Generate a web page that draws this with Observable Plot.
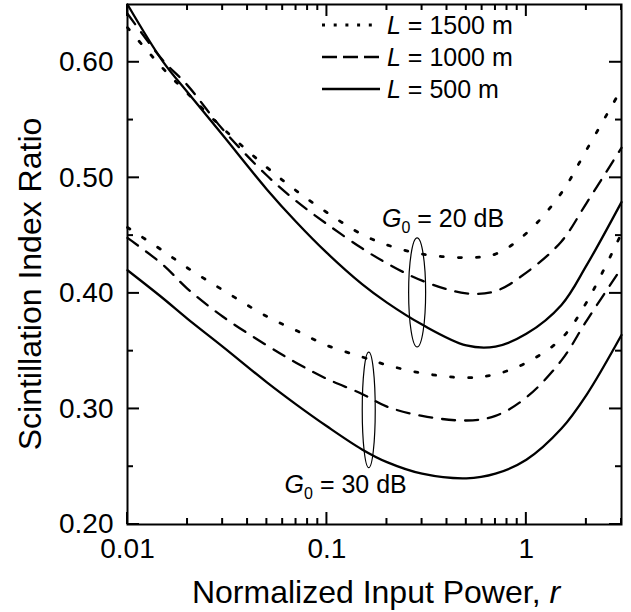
<!DOCTYPE html>
<html><head><meta charset="utf-8">
<script src="https://cdn.jsdelivr.net/npm/d3@7"></script>
<script src="https://cdn.jsdelivr.net/npm/@observablehq/plot@0.6"></script>
<style>body{margin:0;background:#fff}</style>
</head><body><div id="chart"></div>
<script>
// ---- data ----
const rValues = [0.01, 0.015, 0.02, 0.03, 0.05, 0.07, 0.1, 0.15, 0.2, 0.3, 0.5, 0.7, 1, 1.5, 2, 3];
const g20_L1500 = [0.630, 0.595, 0.573, 0.543, 0.509, 0.489, 0.470, 0.451, 0.442, 0.434, 0.431, 0.434, 0.452, 0.487, 0.524, 0.577];
const g20_L1000 = [0.642, 0.602, 0.580, 0.542, 0.502, 0.480, 0.460, 0.439, 0.426, 0.411, 0.400, 0.402, 0.418, 0.445, 0.478, 0.526];
const g20_L500  = [0.650, 0.601, 0.574, 0.537, 0.490, 0.462, 0.435, 0.408, 0.392, 0.373, 0.355, 0.354, 0.365, 0.390, 0.424, 0.479];
const g30_L1500 = [0.457, 0.437, 0.422, 0.403, 0.380, 0.368, 0.355, 0.345, 0.338, 0.331, 0.327, 0.330, 0.340, 0.361, 0.392, 0.452];
const g30_L1000 = [0.448, 0.425, 0.404, 0.380, 0.355, 0.340, 0.326, 0.313, 0.302, 0.294, 0.290, 0.294, 0.310, 0.342, 0.376, 0.422];
const g30_L500  = [0.420, 0.396, 0.378, 0.354, 0.323, 0.304, 0.285, 0.265, 0.254, 0.244, 0.240, 0.244, 0.256, 0.283, 0.312, 0.364];

const legendValues = ["1500", "1000", "500"];
const gainLabels = ["20", "30"];

const xMajor = [0.01, 0.1, 1];
const xMinor = [0.02,0.03,0.04,0.05,0.06,0.07,0.08,0.09,0.2,0.3,0.4,0.5,0.6,0.7,0.8,0.9,2,3];
const yMajor = [0.2, 0.3, 0.4, 0.5, 0.6];
const yMinor = [0.25, 0.35, 0.45, 0.55];

// annotation anchors (data units)
const ellipseR = [0.285, 0.163];
const ellipseV = [0.4004, 0.2987];
const ellipseHalf = [0.0472, 0.050];
const gainLabelR = [0.19, 0.0617];
const gainLabelV = [0.457, 0.2268];

// ---- table ----
const series = [
  {len: "1500", g: "20", vals: g20_L1500},
  {len: "1000", g: "20", vals: g20_L1000},
  {len: "500",  g: "20", vals: g20_L500},
  {len: "1500", g: "30", vals: g30_L1500},
  {len: "1000", g: "30", vals: g30_L1000},
  {len: "500",  g: "30", vals: g30_L500}
];
const rows = series.flatMap(s => s.vals.map((v, i) => ({r: rValues[i], v, len: s.len, key: s.len + "_" + s.g})));

const dashFor = {"1500": "3,15", "1000": "13,10", "500": "none"};
const widthFor = {"1500": 2.8, "1000": 2.3, "500": 2.3};
const legendDash = {"1500": "3,8.7", "1000": "15,6", "500": "none"};

const FONT = "'Liberation Sans', Arial, Helvetica, sans-serif";

function overlay(index, scales, values, dims) {
  const g = d3.create("svg:g").attr("font-family", FONT).attr("fill", "black").attr("text-anchor", "start");
  const left = dims.marginLeft, right = dims.width - dims.marginRight;
  const top = dims.marginTop, bottom = dims.height - dims.marginBottom;
  // inward ticks on all four sides
  const ticks = g.append("g").attr("stroke", "black").attr("stroke-width", 2);
  const addX = (vals, len) => vals.forEach(v => {
    const x = scales.x(v);
    ticks.append("line").attr("x1", x).attr("x2", x).attr("y1", bottom).attr("y2", bottom - len);
    ticks.append("line").attr("x1", x).attr("x2", x).attr("y1", top).attr("y2", top + len);
  });
  const addY = (vals, len) => vals.forEach(v => {
    const y = scales.y(v);
    ticks.append("line").attr("x1", left).attr("x2", left + len).attr("y1", y).attr("y2", y);
    ticks.append("line").attr("x1", right).attr("x2", right - len).attr("y1", y).attr("y2", y);
  });
  addX(xMajor, 12); addX(xMinor, 6); addY(yMajor, 12); addY(yMinor, 6);
  // ellipses
  const rxs = [8.5, 6.5];
  ellipseR.forEach((er, i) => {
    const cy = scales.y(ellipseV[i]);
    const ry = Math.abs(scales.y(ellipseV[i] + ellipseHalf[i]) - cy);
    g.append("ellipse").attr("cx", scales.x(er)).attr("cy", cy)
      .attr("rx", rxs[i]).attr("ry", ry)
      .attr("fill", "none").attr("stroke", "black").attr("stroke-width", 1.2);
  });
  // gain labels
  gainLabels.forEach((lab, i) => {
    const t = g.append("text").attr("x", scales.x(gainLabelR[i])).attr("y", scales.y(gainLabelV[i]))
      .attr("font-size", 25);
    t.append("tspan").attr("font-style", "italic").text("G");
    t.append("tspan").attr("font-size", 16).attr("dy", 6).text("0");
    t.append("tspan").attr("dy", -6).text("\u00a0= " + lab + " dB");
  });
  // legend
  legendValues.forEach((lv, i) => {
    const ly = top + 21 + i * 32;
    g.append("line").attr("x1", left + 195).attr("x2", left + 253)
      .attr("y1", ly).attr("y2", ly).attr("stroke", "black").attr("stroke-width", widthFor[lv])
      .attr("stroke-dasharray", legendDash[lv]);
    const t = g.append("text").attr("x", left + 260).attr("y", ly + 9).attr("font-size", 25);
    t.append("tspan").attr("font-style", "italic").text("L");
    t.append("tspan").text("\u00a0= " + lv + " m");
  });
  // axis titles
  const xt = g.append("text").attr("x", (left + right) / 2 + 2).attr("y", bottom + 79)
    .attr("text-anchor", "middle").attr("font-size", 32);
  xt.append("tspan").text("Normalized Input Power,\u00a0");
  xt.append("tspan").attr("font-style", "italic").text("r");
  g.append("text").attr("transform", `translate(${left - 86},${(top + bottom) / 2 + 20}) rotate(-90)`)
    .attr("text-anchor", "middle").attr("font-size", 32).text("Scintillation Index Ratio");
  return g.node();
}

const lineMarks = legendValues.map(lv => Plot.line(rows.filter(d => d.len === lv), {
  x: "r", y: "v", z: "key", curve: "catmull-rom",
  stroke: "black", strokeWidth: widthFor[lv], strokeDasharray: dashFor[lv]
}));

const chart = Plot.plot({
  width: 631, height: 612,
  marginLeft: 127, marginRight: 10, marginTop: 4, marginBottom: 88,
  style: {fontFamily: FONT, color: "black", background: "white"},
  x: {type: "log", domain: [0.01, 3]},
  y: {domain: [0.2, 0.65]},
  marks: [
    ...lineMarks,
    Plot.frame({stroke: "black", strokeWidth: 2}),
    Plot.axisX(xMajor, {anchor: "bottom", tickSize: 0, tickPadding: 14, fontSize: 28, label: null, tickFormat: d => String(d)}),
    Plot.axisY(yMajor, {anchor: "left", tickSize: 0, tickPadding: 14, fontSize: 28, label: null, tickFormat: d3.format(".2f")}),
    overlay
  ]
});
document.getElementById("chart").appendChild(chart);
</script>
</body></html>
